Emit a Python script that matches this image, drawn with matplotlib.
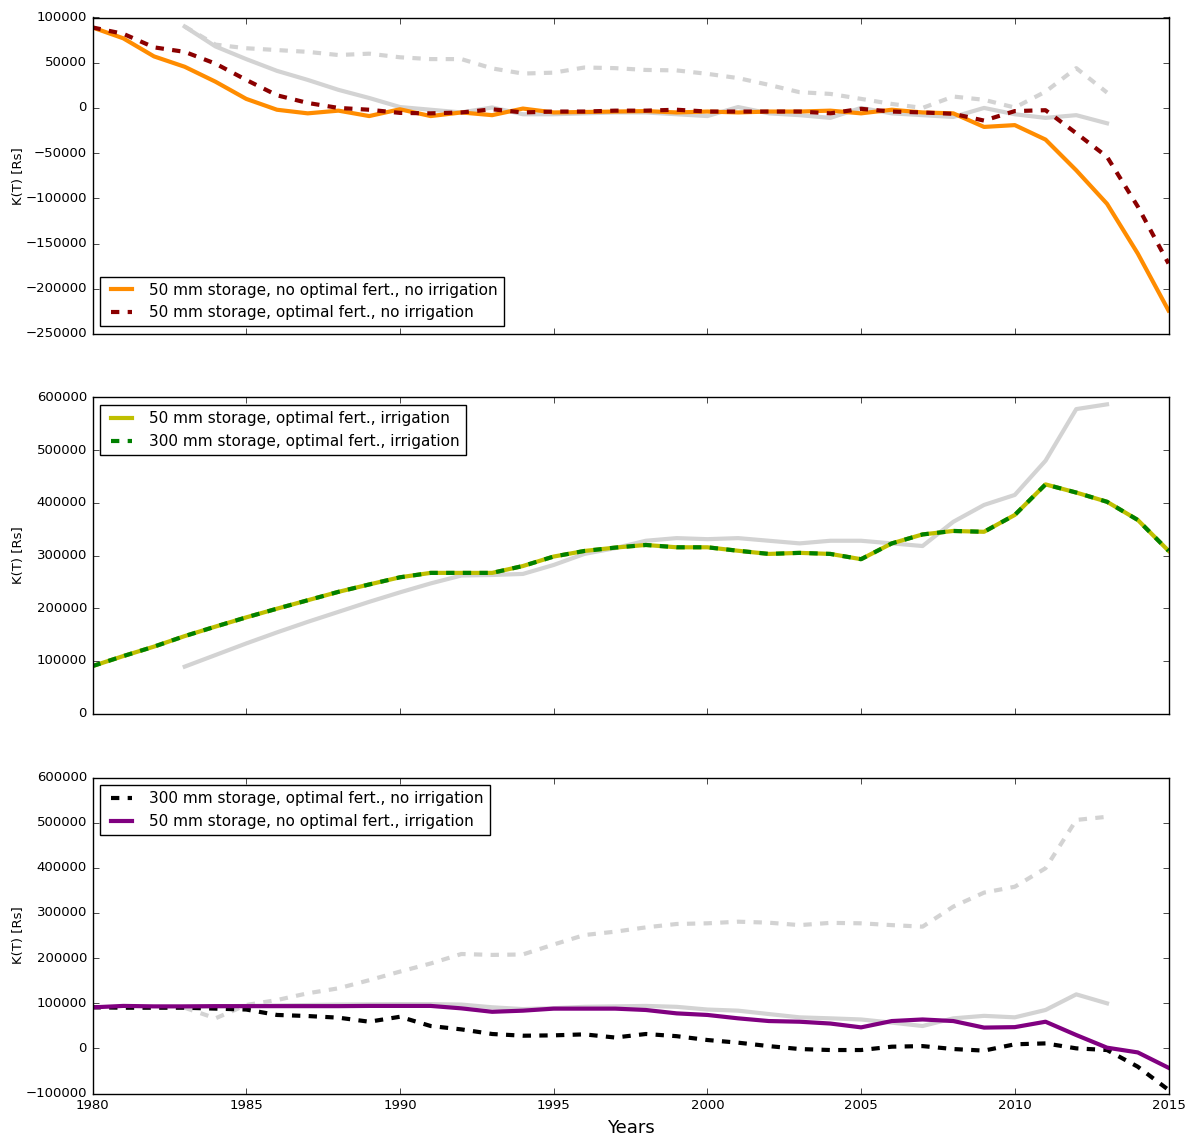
import matplotlib
matplotlib.use("Agg")
import matplotlib.pyplot as plt

plt.style.use("classic")
plt.rcParams["figure.facecolor"] = "white"
plt.rcParams["savefig.facecolor"] = "white"
plt.rcParams["font.family"] = ["DejaVu Sans"]
plt.rcParams["axes.unicode_minus"] = True

years = list(range(1980, 2016))
obs_years = list(range(1983, 2014))

# Panel 1
p1_s50_nofert_noirr = [89000, 77000, 57000, 45500, 29000, 10000, -2000, -6000, -3000, -9000,
                       -1500, -9000, -5000, -8000, -700, -5000,
                       -4500, -4000, -3500, -5000, -4000, -5000, -4000, -4000, -3000, -6000,
                       -2000, -5000, -6000, -21000, -19000, -35000, -69000, -106000, -161000, -224000]
p1_s50_fert_noirr = [89000, 82000, 67000, 62000, 49000, 31000, 14000, 5500, 0, -2000,
                     -5500, -6000, -5000, -1500, -5000, -4000,
                     -4000, -3000, -3000, -2000, -4000, -4000, -4000, -4000, -6000, -1000,
                     -4000, -5000, -6500, -14000, -3500, -2500, -28000, -54000, -109000, -172000]
p1_grey_solid = [90000, 68000, 54000, 41000, 31000, 20000, 11000, 1000, -2000, -5000, 500, -7000, -7000,
                 -6000, -5000, -5000, -7000, -9000, 1000, -6000, -8000, -11000, 0, -6000, -8000, -10000,
                 0, -7000, -11000, -8000, -17000]
p1_grey_dashed = [90000, 70000, 66000, 64000, 62000, 58500, 60000, 56000, 54000, 54000, 43700, 38000, 39000,
                  44700, 44000, 42000, 41500, 37700, 33000, 25500, 17400, 15500, 10000, 4400, 0, 12600,
                  9000, 400, 18000, 44000, 17000]

# Panel 2
p2_s50_fert_irr = [90000, 109000, 127000, 147000, 165000, 182500, 199000, 215000, 231000, 245000,
                   258600, 267000, 267000, 267000, 280000, 298000, 308600,
                   315000, 320000, 315600, 315600, 309000, 303000, 305000, 303000, 293000, 323000,
                   340000, 346600, 345000, 377000, 435000, 419500, 402000, 367500, 309000]
p2_s300_fert_irr = list(p2_s50_fert_irr)
p2_grey_solid = [89000, 111000, 133000, 154000, 174000, 193000, 212000, 230000, 247000, 262000, 263000,
                 265000, 282000, 303000, 314000, 328000, 333000, 331000, 333000, 328000, 323000, 328000,
                 328000, 323000, 318000, 364000, 396000, 415000, 480000, 578000, 587000]

# Panel 3
p3_s300_fert_noirr = [91000, 90000, 90000, 90000, 88000, 86000, 74000, 71600, 68000, 59000,
                      70000, 49500, 42000, 31800, 28000, 28800, 31000,
                      24000, 31800, 27000, 18500, 12600, 5000, -1500, -3700, -3700, 3700,
                      5000, -1500, -5000, 9000, 11000, 0, -3700, -40600, -92000]
p3_s50_nofert_irr = [90800, 94000, 93000, 93000, 93500, 93500, 93500, 93500, 93500, 94000,
                     94000, 94000, 88600, 81000, 83500, 88000, 88000,
                     88000, 85000, 77500, 74000, 66500, 60500, 59000, 55000, 46500, 60500,
                     64000, 60500, 46000, 47000, 59000, 29500, 1500, -9000, -43000]
p3_grey_solid = [92000, 93000, 94000, 95000, 96000, 97000, 97500, 98000, 98000, 97000, 91000, 87000,
                 89000, 92000, 93000, 94000, 92000, 86000, 83500, 76000, 68700, 66500, 64000, 57000,
                 49500, 66500, 72000, 68700, 85000, 119600, 99700]
p3_grey_dashed = [90000, 66500, 96000, 107000, 122000, 133000, 151000, 170000, 188000, 209000, 207000,
                  208000, 230000, 251000, 258500, 268000, 275500, 277000, 280600, 278400, 273000,
                  278000, 277000, 273000, 269600, 314000, 345000, 358000, 399000, 506000, 513000]

labels = {
    "a": "50 mm storage, no optimal fert., no irrigation",
    "b": "50 mm storage, optimal fert., no irrigation",
    "c": "50 mm storage, optimal fert., irrigation",
    "d": "300 mm storage, optimal fert., irrigation",
    "e": "300 mm storage, optimal fert., no irrigation",
    "f": "50 mm storage, no optimal fert., irrigation",
}

W, H = 1187, 1135
fig = plt.figure(figsize=(W / 100, H / 100), dpi=100)

def box(top, bottom, left=92.5, right=1168.5):
    return [left / W, 1 - bottom / H, (right - left) / W, (bottom - top) / H]

ax1 = fig.add_axes(box(17.5, 334))
ax2 = fig.add_axes(box(397.5, 713.5), sharex=ax1)
ax3 = fig.add_axes(box(777.5, 1093.5), sharex=ax1)

grey = "lightgrey"
lw = 3
tick_fs = 9.5
leg_fs = 11

ax1.plot(obs_years, p1_grey_solid, color=grey, lw=lw, ls="-")
ax1.plot(obs_years, p1_grey_dashed, color=grey, lw=lw, ls="--")
ax1.plot(years, p1_s50_nofert_noirr, color="darkorange", lw=lw, ls="-", label=labels["a"])
ax1.plot(years, p1_s50_fert_noirr, color="darkred", lw=lw, ls="--", label=labels["b"])
ax1.set_ylim(-250000, 100000)
ax1.set_yticks(list(range(-250000, 100001, 50000)))

ax2.plot(obs_years, p2_grey_solid, color=grey, lw=lw, ls="-")
ax2.plot(years, p2_s50_fert_irr, color=(0.75, 0.75, 0), lw=lw, ls="-", label=labels["c"])
ax2.plot(years, p2_s300_fert_irr, color=(0, 0.5, 0), lw=lw, ls="--", label=labels["d"])
ax2.set_ylim(0, 600000)
ax2.set_yticks(list(range(0, 600001, 100000)))

ax3.plot(obs_years, p3_grey_solid, color=grey, lw=lw, ls="-")
ax3.plot(obs_years, p3_grey_dashed, color=grey, lw=lw, ls="--")
ax3.plot(years, p3_s300_fert_noirr, color="black", lw=lw, ls="--", label=labels["e"])
ax3.plot(years, p3_s50_nofert_irr, color="purple", lw=lw, ls="-", label=labels["f"])
ax3.set_ylim(-100000, 600000)
ax3.set_yticks(list(range(-100000, 600001, 100000)))

ax3.set_xlim(1980, 2015)
ax3.set_xticks(list(range(1980, 2016, 5)))
ax3.set_xlabel("Years", fontsize=13)

for ax in (ax1, ax2, ax3):
    ax.set_ylabel("K(T) [Rs]", fontsize=tick_fs)
    ax.yaxis.set_label_coords((25 - 92.5) / 1076, 0.5)
    ax.tick_params(labelsize=tick_fs, direction="in", top=True, right=True)
    ax.ticklabel_format(useOffset=False, style="plain")
for ax in (ax1, ax2):
    plt.setp(ax.get_xticklabels(), visible=False)

ax1.legend(loc="lower left", fontsize=leg_fs, fancybox=False)
ax2.legend(loc="upper left", fontsize=leg_fs, fancybox=False)
ax3.legend(loc="upper left", fontsize=leg_fs, fancybox=False)

fig.savefig("out.png", dpi=100)
